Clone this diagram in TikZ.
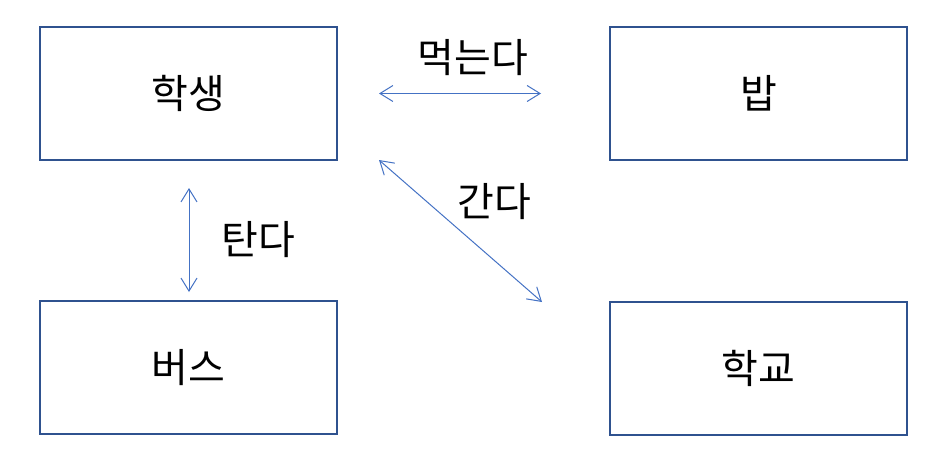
\documentclass[tikz,border=0pt]{standalone}
\usepackage{fontspec}
\setmainfont{Noto Sans CJK KR}
\usetikzlibrary{arrows.meta}
\definecolor{boxblue}{HTML}{2F528F}
\definecolor{arrblue}{HTML}{4472C4}
\tikzset{
  box/.style={draw=boxblue, line width=2pt, minimum width=297pt, minimum height=133pt, inner sep=0pt, font=\fontsize{40}{46}\selectfont},
  lbl/.style={inner sep=0pt, font=\fontsize{40}{46}\selectfont},
  conn/.style={draw=arrblue, line width=1pt, {Straight Barb[length=13pt,width=16pt]}-{Straight Barb[length=13pt,width=16pt]}}
}
\begin{document}
\begin{tikzpicture}[x=1pt,y=-1pt]
\useasboundingbox (0,0) rectangle (947,469);
\node[box] (hs) at (188.5,93.5) {학생};
\node[box] (bab) at (758.5,93.5) {밥};
\node[box] (bus) at (188.5,367.5) {버스};
\node[box] (hg) at (758.5,368.5) {학교};
\coordinate (a1) at (379,93.5);
\coordinate (a2) at (541,93.5);
\coordinate (v1) at (189,188);
\coordinate (v2) at (189,292);
\coordinate (d1) at (379,160);
\coordinate (d2) at (542,302);
\draw[conn] (a1) -- (a2);
\draw[conn] (v1) -- (v2);
\draw[conn] (d1) -- (d2);
\node[lbl] (l1) at (473,58) {먹는다};
\node[lbl] (l2) at (494,202) {간다};
\node[lbl] (l3) at (258,240) {탄다};
\end{tikzpicture}
\end{document}
